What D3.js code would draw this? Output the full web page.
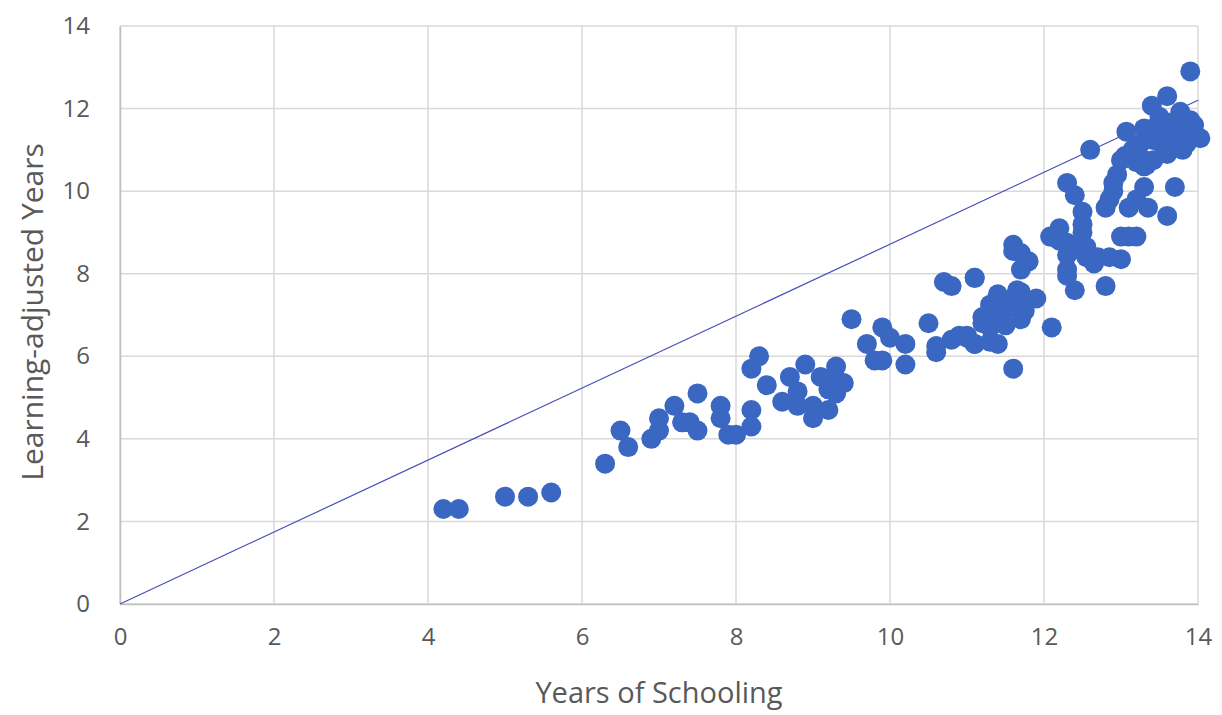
<!DOCTYPE html>
<html lang="en">
    <head>
        <meta charset="utf-8">
        <title>Learning-adjusted Years vs Years of Schooling</title>
        <script src="https://d3js.org/d3.v7.min.js"></script>
        <style>
            body { margin: 0; background: #fff; }
            text { font-family: "Open Sans", sans-serif; fill: #595959; }
        </style>
    </head>
    <body>
        <script type="text/javascript">
        'use strict';

        // data
        var schooling = [
            4.2, 4.4, 5.0, 5.3, 5.6, 6.3, 6.5, 6.6, 6.9, 7.0, 7.0, 7.2, 7.3, 7.4, 7.5, 7.5,
            7.8, 7.8, 7.9, 8.0, 8.2, 8.2, 8.2, 8.3, 8.4, 8.6, 8.7, 8.8, 8.8, 8.9, 9.0, 9.0,
            9.1, 9.2, 9.2, 9.3, 9.3, 9.4, 9.3, 9.5, 9.7, 9.8, 9.9, 9.9, 10.0, 10.2, 10.2,
            10.5, 10.6, 10.6, 10.7, 10.8, 10.8, 10.9, 11.0, 11.1, 11.1, 11.2, 11.3, 11.4,
            11.3, 11.4, 11.5, 11.65, 11.7, 11.7, 11.75, 11.9, 11.6, 12.1, 11.4, 11.5, 11.2,
            11.0, 11.1, 11.3, 11.5, 11.7, 11.6, 11.6, 11.7, 11.8, 11.7, 11.1, 11.3, 11.5,
            12.08, 12.2, 12.3, 12.3, 12.4, 12.3, 12.4, 12.5, 12.5, 12.5, 12.2, 12.1, 12.3,
            12.4, 12.55, 12.55, 12.7, 12.85, 13.0, 12.65, 12.3, 12.4, 12.8, 13.0, 13.1, 13.2,
            12.8, 12.85, 12.9, 13.1, 13.3, 13.35, 13.2, 13.6, 13.7, 12.95, 12.9, 13.05, 13.2,
            13.3, 12.6, 13.9, 13.6, 13.4, 13.77, 13.9, 14.03, 13.07, 13.3, 13.45, 13.68,
            13.85, 13.8, 13.42, 13.25, 13.15, 13.42, 13.6, 13.33, 13.0, 13.3, 13.7, 13.55,
            13.9, 13.5, 13.55, 13.8, 13.95, 13.65
        ];
        var adjusted = [
            2.3, 2.3, 2.6, 2.6, 2.7, 3.4, 4.2, 3.8, 4.0, 4.5, 4.2, 4.8, 4.4, 4.4, 4.2, 5.1,
            4.8, 4.5, 4.1, 4.1, 4.7, 4.3, 5.7, 6.0, 5.3, 4.9, 5.5, 5.15, 4.8, 5.8, 4.5, 4.8,
            5.5, 5.2, 4.7, 5.75, 5.1, 5.35, 5.45, 6.9, 6.3, 5.9, 6.7, 5.9, 6.45, 6.3, 5.8,
            6.8, 6.1, 6.25, 7.8, 7.7, 6.4, 6.5, 6.5, 7.9, 6.3, 6.8, 6.35, 6.3,
            7.25, 7.5, 7.35, 7.6, 7.35, 6.9, 7.1, 7.4, 5.7, 6.7, 6.95, 7.15, 6.95,
            6.45, 6.3, 7.1, 7.2, 7.55, 8.55, 8.7, 8.5, 8.3, 8.1, 7.9, 6.7, 6.75,
            8.9, 9.1, 10.2, 8.75, 9.9, 8.45, 8.6, 9.5, 9.2, 9.0, 8.8, 8.9, 8.1,
            7.6, 8.65, 8.4, 8.4, 8.4, 8.35, 8.25, 7.95, 8.6, 7.7, 8.9, 8.9, 8.9,
            9.6, 9.8, 10.0, 9.6, 10.1, 9.6, 9.8, 9.4, 10.1, 10.4, 10.2, 10.85, 10.7,
            10.6, 11.0, 12.9, 12.3, 12.07, 11.92, 11.72, 11.28, 11.44, 11.52, 11.56, 11.4,
            11.15, 11.0, 11.24, 11.15, 11.0, 10.75, 10.9, 10.63, 10.75, 10.75, 11.2, 11.1,
            11.45, 11.8, 11.3, 11.5, 11.6, 11.65
        ];
        var xTicks = [0, 2, 4, 6, 8, 10, 12, 14];
        var yTicks = [0, 2, 4, 6, 8, 10, 12, 14];
        // reference line drawn from the origin
        var lineX = [0, 14];
        var lineY = [0, 12.2];

        var w = 1222;
        var h = 715;
        var margin = {left: 120, right: 1198, top: 26, bottom: 604};

        var xScale = d3.scaleLinear().domain([0, 14]).range([margin.left, margin.right]);
        var yScale = d3.scaleLinear().domain([0, 14]).range([margin.bottom, margin.top]);

        var svg = d3.select("body")
                    .append("svg")
                    .attr("width", w)
                    .attr("height", h);

        // gridlines
        svg.append("g")
            .selectAll("line")
            .data(xTicks)
            .enter()
            .append("line")
            .attr("x1", function(d){ return xScale(d); })
            .attr("x2", function(d){ return xScale(d); })
            .attr("y1", margin.top)
            .attr("y2", margin.bottom)
            .attr("stroke", "#d9d9d9")
            .attr("stroke-width", 1.5);
        svg.append("g")
            .selectAll("line")
            .data(yTicks)
            .enter()
            .append("line")
            .attr("x1", margin.left)
            .attr("x2", margin.right)
            .attr("y1", function(d){ return yScale(d); })
            .attr("y2", function(d){ return yScale(d); })
            .attr("stroke", "#d9d9d9")
            .attr("stroke-width", 1.5);

        // axes
        var xAxis = d3.axisBottom(xScale).tickValues(xTicks).tickSize(0).tickPadding(24);
        var yAxis = d3.axisLeft(yScale).tickValues(yTicks).tickSize(0).tickPadding(30);
        var gx = svg.append("g")
            .attr("transform", "translate(0," + margin.bottom + ")")
            .call(xAxis);
        var gy = svg.append("g")
            .attr("transform", "translate(" + margin.left + ",0)")
            .call(yAxis);
        [gx, gy].forEach(function(g){
            g.select(".domain").attr("stroke", "#bfbfbf").attr("stroke-width", 1.5);
            g.selectAll("text")
                .attr("font-family", "Open Sans, sans-serif")
                .attr("font-size", "24px")
                .attr("fill", "#595959");
        });

        // reference line
        svg.append("line")
            .attr("x1", xScale(lineX[0]))
            .attr("y1", yScale(lineY[0]))
            .attr("x2", xScale(lineX[1]))
            .attr("y2", yScale(lineY[1]))
            .attr("stroke", "#4a50b8")
            .attr("stroke-width", 1.2);

        // points
        svg.append("g")
            .selectAll("circle")
            .data(schooling)
            .enter()
            .append("circle")
            .attr("cx", function(d){ return xScale(d); })
            .attr("cy", function(d, i){ return yScale(adjusted[i]); })
            .attr("r", 10)
            .attr("fill", "#3a67c2");

        // axis titles
        svg.append("text")
            .text("Years of Schooling")
            .attr("x", (margin.left + margin.right) / 2)
            .attr("y", 703)
            .attr("text-anchor", "middle")
            .attr("font-size", "29px");
        svg.append("text")
            .text("Learning-adjusted Years")
            .attr("transform", "translate(43,312) rotate(-90)")
            .attr("text-anchor", "middle")
            .attr("font-size", "30px");
        </script>
    </body>
</html>
